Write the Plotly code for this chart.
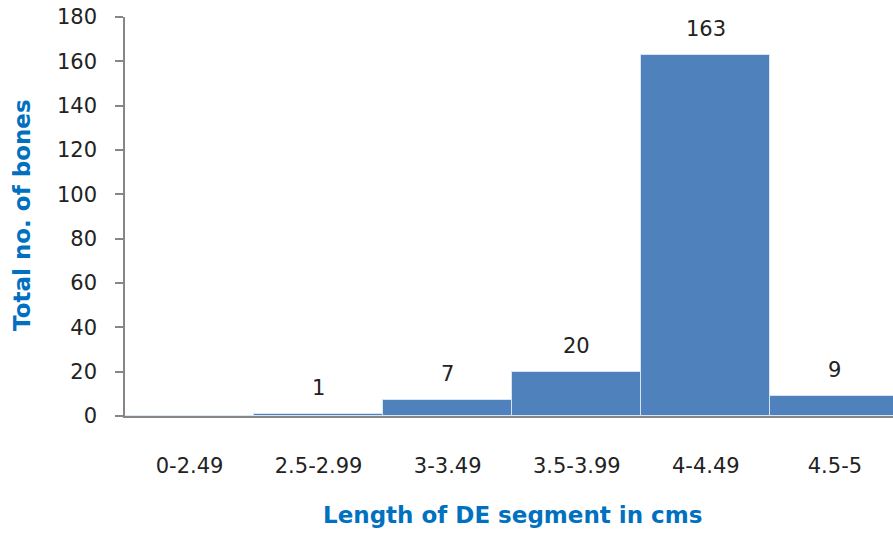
import plotly.graph_objects as go

# Frequency of DE segment lengths
categories = ["0-2.49", "2.5-2.99", "3-3.49", "3.5-3.99", "4-4.49", "4.5-5"]
counts = [0, 1, 7, 20, 163, 9]
y_ticks = [0, 20, 40, 60, 80, 100, 120, 140, 160, 180]

BAR_COLOR = "#4F81BD"
AXIS_COLOR = "#868686"
TITLE_COLOR = "#0070C0"
TICK_FONT = dict(family="DejaVu Sans", size=21, color="#222222")
TITLE_FONT = dict(family="DejaVu Sans", size=23, color=TITLE_COLOR)

fig = go.Figure()
fig.add_trace(go.Bar(
    x=list(range(len(categories))),
    y=counts,
    width=1.0,
    marker=dict(color=BAR_COLOR, line=dict(color="rgba(220,232,245,0.9)", width=1)),
    hoverinfo="skip",
))

# value labels above each non-empty bar
for i, v in enumerate(counts):
    if v > 0:
        fig.add_annotation(x=i, y=v, text=str(v), showarrow=False,
                           yanchor="middle", yshift=26, font=TICK_FONT)

# axis titles
fig.add_annotation(xref="paper", yref="paper", x=0.504, y=0, yanchor="middle",
                   yshift=-99, showarrow=False,
                   text="<b>Length of DE segment in cms</b>", font=TITLE_FONT)
fig.add_annotation(xref="paper", yref="paper", x=0, y=0.504, xanchor="center",
                   xshift=-103, showarrow=False, textangle=-90,
                   text="<b>Total no. of bones</b>", font=TITLE_FONT)

fig.update_layout(
    width=893, height=534,
    margin=dict(l=125, r=0, t=17, b=118),
    paper_bgcolor="white", plot_bgcolor="white",
    showlegend=False,
    bargap=0,
    xaxis=dict(
        range=[-0.5, 5.45],
        tickmode="array", tickvals=list(range(len(categories))), ticktext=categories,
        showline=True, linecolor=AXIS_COLOR, linewidth=1.5,
        ticks="", showgrid=False, zeroline=False,
        tickfont=TICK_FONT, ticklabelstandoff=30,
    ),
    yaxis=dict(
        range=[0, 180],
        tickmode="array", tickvals=y_ticks,
        showline=True, linecolor=AXIS_COLOR, linewidth=1.5,
        ticks="outside", ticklen=8, tickcolor=AXIS_COLOR, tickwidth=1.5,
        showgrid=False, zeroline=False,
        tickfont=TICK_FONT, ticklabelstandoff=14,
    ),
)

fig.write_html("out.html")
